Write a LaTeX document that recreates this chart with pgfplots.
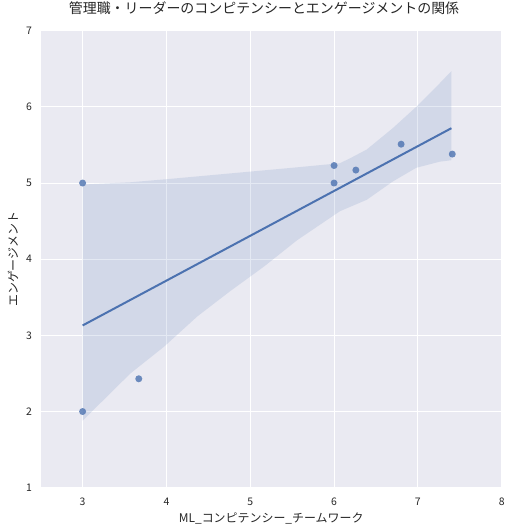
\documentclass[border=0pt]{standalone}
\usepackage{fontspec}
\setmainfont{Noto Sans CJK JP}
\usepackage{pgfplots}
\pgfplotsset{compat=1.18}
\definecolor{sbblue}{HTML}{4C72B0}
\definecolor{sbbg}{HTML}{EAEAF2}
\definecolor{txt}{HTML}{262626}
\begin{document}
\begin{tikzpicture}
\begin{axis}[
  scale only axis, width=461bp, height=457bp,
  xmin=2.5, xmax=8, ymin=1, ymax=7,
  xtick={3,4,5,6,7,8}, ytick={1,2,3,4,5,6,7},
  axis background/.style={fill=sbbg},
  axis line style={draw=none},
  major tick length=0pt,
  grid=major, major grid style={white, line width=1bp},
  /pgf/number format/assume math mode=true,
  tick label style={font=\fontsize{10.5}{12}\selectfont, text=txt},
  xticklabel style={yshift=-6.8bp},
  yticklabel style={xshift=-5.2bp},
  xlabel={ML\_コンピテンシー\_チームワーク},
  ylabel={エンゲージメント},
  xlabel style={font=\fontsize{12}{14}\selectfont, text=txt, at={(axis description cs:0.5,-0.0678)}, anchor=center},
  ylabel style={font=\fontsize{12}{14}\selectfont, text=txt, at={(axis description cs:-0.0601,0.5)}, anchor=center},
  title={管理職・リーダーのコンピテンシーとエンゲージメントの関係},
  title style={font=\fontsize{14}{16}\selectfont, text=txt, at={(axis description cs:0.4844,1.0365)}, anchor=center},
]
\coordinate (sw) at (rel axis cs:0,0);
\coordinate (ne) at (rel axis cs:1,1);
% confidence band
\addplot[fill=sbblue, fill opacity=0.15, draw=none] coordinates {
  (3,4.98) (3.57,5.01) (4,5.05) (4.5,5.10) (5,5.15) (5.5,5.20) (6.07,5.26)
  (6.2,5.33) (6.39,5.44) (6.7,5.72) (6.98,6.0) (7.2,6.24) (7.4,6.47)
  (7.4,5.30) (7.26,5.28) (6.98,5.20) (6.7,5.02) (6.39,4.78) (6.07,4.63)
  (5.56,4.25) (5.16,3.90) (4.76,3.58) (4.37,3.25) (3.97,2.85) (3.57,2.50)
  (3,1.88)
} -- cycle;
% regression line
\addplot[sbblue, line width=2bp] coordinates {(3,3.13) (7.4,5.72)};
% points
\addplot[only marks, mark=*, mark size=3.5bp, mark options={fill=sbblue, fill opacity=0.8, draw opacity=0}] coordinates {
  (3,5.0) (3,2.0) (3.67,2.43) (6,5.23) (6,5.0) (6.26,5.17) (6.8,5.51) (7.41,5.38)
};
\end{axis}
\pgfresetboundingbox
\path ([shift={(-40.7bp,-44.3bp)}]sw) rectangle ([shift={(10.3bp,30.7bp)}]ne);
\end{tikzpicture}
\end{document}
